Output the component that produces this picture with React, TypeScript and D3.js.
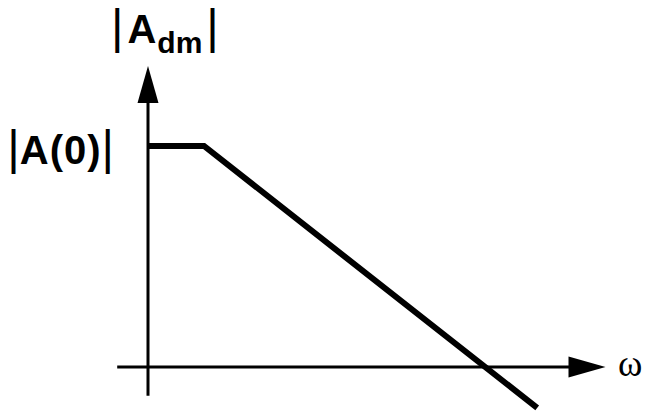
import React, { useEffect, useRef } from "react";
import * as d3 from "d3";

// asymptotic Bode magnitude of the differential gain (arbitrary units)
const omega = [0, 1, 6.95];
const magnitude = [4, 4, -0.74];

// axis extents in the same units
const xAxisExtent = [-0.55, 8.17];
const yAxisExtent = [-0.52, 5.45];

const yLabel = { main: "A", sub: "dm" };
const levelLabel = "A(0)";
const xLabel = "ω";

const W = 645;
const H = 414;

const App = () => {
  const ref = useRef<SVGSVGElement | null>(null);

  useEffect(() => {
    const svg = d3.select(ref.current);
    svg.selectAll("*").remove();

    const x = d3.scaleLinear().domain([0, 1]).range([148, 204]);
    const y = d3.scaleLinear().domain([0, 4]).range([367, 146]);

    const x0 = x(0);
    const y0 = y(0);
    const xEnd = x(xAxisExtent[1]);
    const yEnd = y(yAxisExtent[1]);
    const head = 37;
    const half = 10.5;

    // axes
    svg
      .append("line")
      .attr("x1", x(xAxisExtent[0]))
      .attr("x2", xEnd - head + 2)
      .attr("y1", y0)
      .attr("y2", y0)
      .attr("stroke", "#000")
      .attr("stroke-width", 3);

    svg
      .append("line")
      .attr("x1", x0)
      .attr("x2", x0)
      .attr("y1", y(yAxisExtent[0]))
      .attr("y2", yEnd + head - 2)
      .attr("stroke", "#000")
      .attr("stroke-width", 3);

    // arrow heads
    svg
      .append("path")
      .attr("d", `M${xEnd},${y0}L${xEnd - head},${y0 - half}L${xEnd - head},${y0 + half}Z`)
      .attr("fill", "#000");
    svg
      .append("path")
      .attr("d", `M${x0},${yEnd}L${x0 - half},${yEnd + head}L${x0 + half},${yEnd + head}Z`)
      .attr("fill", "#000");

    // magnitude curve
    const line = d3
      .line<number>()
      .x((d) => x(d))
      .y((_, i) => y(magnitude[i]));

    svg
      .append("path")
      .attr("d", line(omega))
      .attr("fill", "none")
      .attr("stroke", "#000")
      .attr("stroke-width", 6)
      .attr("stroke-linejoin", "miter")
      .attr("stroke-linecap", "butt");

    const font = "'Liberation Sans', Arial, sans-serif";

    // |A(0)| label
    const lv = svg
      .append("text")
      .attr("x", 114)
      .attr("y", y(4) + 18)
      .attr("text-anchor", "end")
      .attr("font-family", font)
      .attr("fill", "#000");
    lv.append("tspan").attr("font-size", 48).text("|");
    lv.append("tspan")
      .attr("font-size", 40)
      .attr("font-weight", "bold")
      .attr("letter-spacing", 1)
      .text(levelLabel);
    lv.append("tspan").attr("font-size", 48).text("|");

    // |A_dm| label
    const yl = svg
      .append("text")
      .attr("x", 111)
      .attr("y", 43)
      .attr("font-family", font)
      .attr("fill", "#000");
    yl.append("tspan").attr("font-size", 48).text("|");
    yl.append("tspan")
      .attr("font-size", 40)
      .attr("font-weight", "bold")
      .attr("dx", 4)
      .text(yLabel.main);
    yl.append("tspan")
      .attr("font-size", 30)
      .attr("font-weight", "bold")
      .attr("dy", 10)
      .attr("dx", 1)
      .text(yLabel.sub);
    yl.append("tspan").attr("font-size", 48).attr("dy", -10).attr("dx", 4).text("|");

    // omega label
    svg
      .append("text")
      .attr("x", 618)
      .attr("y", y0 + 9)
      .attr("font-family", "'Liberation Serif', 'Times New Roman', serif")
      .attr("font-size", 37)
      .attr("fill", "#000")
      .text(xLabel);
  }, []);

  return (
    <svg
      ref={ref}
      width={W}
      height={H}
      style={{ position: "absolute", left: 0, top: 0, background: "#fff" }}
    />
  );
};

export default App;
